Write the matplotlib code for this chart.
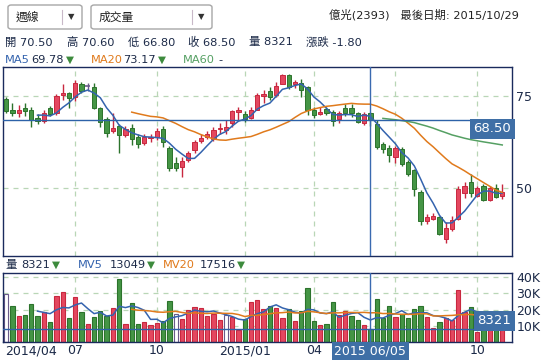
import numpy as np
import pandas as pd
import matplotlib
matplotlib.use("Agg")
import matplotlib.pyplot as plt
from matplotlib.patches import FancyBboxPatch
from matplotlib.transforms import blended_transform_factory as blend

W, H = 556, 364
FAM = ["DejaVu Sans", "Noto Sans CJK TC"]
plt.rcParams["font.family"] = FAM

# weekly candles, 2014/04/18 .. 2015/10/30
OPEN = [74.4,71.2,70.4,71.8,71.3,69.1,68.2,71.8,70.4,75.4, 76.0,74.8,78.3,78.0,77.7,71.8,68.9,65.5,66.8,64.3,
        66.4,64.0,62.2,63.5,64.0,66.1,60.9,56.7,55.6,57.6, 60.4,62.9,64.0,63.4,66.0,65.9,67.7,70.7,70.1,69.1,
        71.2,75.0,76.6,75.3,78.5,80.8,78.3,78.7,77.6,71.2, 70.2,71.6,70.7,68.9,71.8,71.8,70.4,67.8,70.5,67.5,
        62.0,60.9,58.3,60.6,57.0,54.7,48.9,40.7,41.4,41.8, 35.9,38.7,41.4,48.4,51.5,47.8,50.3,46.6,49.8,47.8]
CLOSE = [71.0,70.4,71.3,71.0,68.4,68.2,70.5,70.2,75.0,76.0, 74.5,78.7,76.6,78.0,71.8,68.1,64.9,66.3,64.3,66.2,
         63.4,62.0,63.8,63.8,65.5,62.4,55.4,55.4,57.2,59.4, 62.6,63.5,64.6,65.9,66.3,66.6,71.0,71.3,68.7,71.2,
         75.5,75.7,74.8,78.0,80.8,77.6,78.9,76.8,71.2,69.8, 70.7,70.4,68.2,70.4,70.5,70.5,67.9,70.2,68.5,61.1,
         60.6,58.8,60.9,56.5,53.8,49.6,40.9,41.8,42.3,37.3, 38.9,41.2,49.6,50.5,48.4,49.9,46.6,49.8,47.3,48.7]
HIGH = [74.8,73.2,72.6,73.2,72.1,70.2,71.2,72.5,75.7,78.3, 76.2,79.5,79.1,78.8,78.6,72.0,69.3,70.4,67.3,67.0,
        67.3,64.6,64.6,64.7,66.4,67.0,61.4,58.4,58.4,60.1, 63.1,64.6,65.6,66.6,67.6,68.4,71.3,72.0,71.0,72.1,
        75.9,76.9,77.5,78.9,81.1,81.1,79.6,79.7,78.0,72.1, 72.1,72.1,71.2,71.0,73.0,72.8,70.7,70.7,70.6,68.4,
        62.5,61.6,61.3,61.1,57.5,55.1,49.2,42.6,43.0,42.2, 40.5,42.3,50.5,51.4,53.6,50.5,51.0,50.3,51.0,51.0]
LOW = [70.5,69.7,69.3,69.7,66.6,67.5,67.8,69.5,69.9,73.9, 71.7,73.8,76.0,76.6,71.5,66.6,63.8,65.0,59.6,63.8,
       61.8,60.9,61.6,62.5,63.0,61.0,54.6,54.6,52.8,56.9, 59.6,62.2,63.2,62.7,64.6,64.6,66.6,68.5,68.0,68.8,
       71.2,73.2,74.0,74.8,78.3,77.1,77.4,74.8,69.8,69.1, 69.8,69.8,67.0,67.8,69.6,69.3,67.6,67.1,66.8,60.7,
       59.4,57.0,56.6,56.0,53.2,47.8,39.6,39.9,41.0,37.0, 34.7,38.2,41.2,47.1,47.5,47.4,46.4,46.4,47.1,46.9]
# volume in thousand lots
VOL = [29.4,22.3,16.2,16.8,23.5,16.2,18.5,12.4,28.4,30.8, 14.8,27.6,18.2,11.4,15.5,18.9,16.2,20.9,38.5,11.4,
       23.9,11.4,12.4,10.8,11.8,12.8,24.9,17.3,14.5,19.9, 21.7,21.1,15.8,17.0,13.8,16.8,15.2,7.8,14.3,24.3,
       25.9,20.6,22.4,21.1,14.8,20.4,13.3,19.1,33.0,13.2, 10.8,11.4,24.5,16.5,19.3,16.3,13.8,10.3,8.321,26.5,
       15.0,22.3,15.6,17.0,15.0,20.1,22.3,15.6,8.5,12.6, 14.8,13.8,32.0,18.5,21.5,6.5,13.0,10.0,12.0,9.0]
# volume bar direction vs previous close: u = up, d = down, n = unchanged
VDIR = list("nduddduduu" "dududddudu" "dduuuddnuu" "uuuuunuudu"
            "uuduududdd" "udduuddudd" "ddudddduud" "uuuudududu")

XT_POS = [0, 11, 24, 38, 49, 75]
XT_LAB = ["2014/04", "07", "10", "2015/01", "04", "10"]
GRID_POS = [11, 24, 38, 49, 62, 75]
SEL = 58  # 2015 06/05

RED, RED_E = "#e4475f", "#c8283f"
GRN, GRN_E = "#459545", "#2c732c"
PUR = "#6a5a8a"
C_MA5, C_MA20, C_MA60 = "#3463ae", "#e07a1c", "#55a063"
NAVY = "#1c2a48"
BOXC = "#3f6fa6"
GRIDC = "#b9d6b6"

o, c, hi, lo = map(np.array, (OPEN, CLOSE, HIGH, LOW))
v = np.array(VOL)
x = np.arange(len(o))

def ma(series, n):
    m = pd.Series(series).rolling(n).mean().to_numpy()
    m[:n] = np.nan
    return m

fig = plt.figure(figsize=(W / 100, H / 100), dpi=100)
fx = lambda px: px / W
fy = lambda py: 1 - py / H

axp = fig.add_axes([fx(3.3), fy(256), fx(512.3) - fx(3.3), fy(67.3) - fy(256)])
axv = fig.add_axes([fx(3.3), fy(342.3), fx(512.3) - fx(3.3), fy(273.3) - fy(342.3)])

for ax in (axp, axv):
    ax.set_xlim(-0.45, 80.6)
    for s in ax.spines.values():
        s.set_color("#1a2a5c"); s.set_linewidth(1.0)
    ax.set_xticks([])
    ax.yaxis.tick_right()
    ax.tick_params(axis="y", length=0, pad=3, labelsize=9, colors=NAVY)
    for p in GRID_POS:
        ax.axvline(p, color=GRIDC, lw=0.9, ls=(0, (4, 4)), zorder=0)
    ax.axvline(SEL, color="#3a6ab0", lw=1.0, zorder=5)

# --- price panel
axp.set_ylim(31.2, 83.0)
axp.set_yticks([50, 75])
for yv in (50, 75):
    axp.axhline(yv, color=GRIDC, lw=0.9, ls=(0, (4, 4)), zorder=0)

up, dn, fl = c > o, c < o, c == o
face = np.where(up, RED, np.where(dn, GRN, PUR))
edge = np.where(up, RED_E, np.where(dn, GRN_E, PUR))
axp.vlines(x, lo, hi, colors=edge, lw=1.0, zorder=2)
axp.bar(x[~fl], np.maximum(np.abs(c - o), 0.3)[~fl], bottom=np.minimum(o, c)[~fl], width=0.68,
        color=face[~fl], edgecolor=edge[~fl], lw=0.7, zorder=3)
axp.hlines(c[fl], x[fl] - 0.4, x[fl] + 0.4, colors=PUR, lw=1.2, zorder=3)

axp.plot(x, ma(c, 5), color=C_MA5, lw=1.1, zorder=4)
axp.plot(x, ma(c, 20), color=C_MA20, lw=1.1, zorder=4)
axp.plot(x, ma(c, 60), color=C_MA60, lw=1.1, zorder=4)

axp.axhline(c[SEL], color="#2d62a8", lw=1.0, zorder=5)
axp.text(0.998, c[SEL] - 0.6, f"{c[SEL]:.2f}", transform=blend(axp.transAxes, axp.transData),
         ha="right", va="top", fontsize=9.5, color="white", zorder=6,
         bbox=dict(boxstyle="square,pad=0.25", fc=BOXC, ec="none"))

# --- volume panel
axv.set_ylim(0, 42.1)
axv.set_yticks([10, 20, 30, 40])
axv.set_yticklabels(["10K", "20K", "30K", "40K"])
for yv in (10, 20, 30, 40):
    axv.axhline(yv, color=GRIDC, lw=0.9, ls=(0, (4, 4)), zorder=0)
vd = np.array(VDIR)
vface = np.where(vd == "u", RED, np.where(vd == "d", GRN, "white"))
vedge = np.where(vd == "u", RED_E, np.where(vd == "d", GRN_E, PUR))
axv.bar(x, v, width=0.68, color=vface, edgecolor=vedge, lw=0.8, zorder=2)
axv.plot(x, ma(v, 5), color=C_MA5, lw=1.1, zorder=4)
axv.plot(x, ma(v, 20), color=C_MA20, lw=1.1, zorder=4)
axv.axhline(v[SEL], color="#2d62a8", lw=1.0, zorder=5)
axv.text(0.998, v[SEL] + 0.8, f"{v[SEL] * 1000:.0f}", transform=blend(axv.transAxes, axv.transData),
         ha="right", va="bottom", fontsize=9.5, color="white", zorder=6,
         bbox=dict(boxstyle="square,pad=0.25", fc=BOXC, ec="none"))

# x labels under volume panel
tb = blend(axv.transData, fig.transFigure)
for p, lab in zip(XT_POS, XT_LAB):
    if p == 0:
        fig.text(fx(5), fy(351), lab, ha="left", va="center", fontsize=9, color=NAVY)
    else:
        fig.text(p, fy(351), lab, transform=tb, ha="center", va="center", fontsize=9, color=NAVY)
fig.text(SEL, fy(351), "2015 06/05", transform=tb, ha="center", va="center", fontsize=9,
         color="white", zorder=10, bbox=dict(boxstyle="square,pad=0.2", fc=BOXC, ec="none"))

# --- header
def T(px, py, s, col=NAVY, size=8.2, **kw):
    fig.text(fx(px), fy(py), s, ha=kw.pop("ha", "left"), va="center", fontsize=size, color=col, **kw)

for (x0, x1, sep, lab) in [(8, 82, 62, "週線"), (91, 212, 192, "成交量")]:
    fig.add_artist(FancyBboxPatch((fx(x0), fy(29)), fx(x1) - fx(x0), fy(5) - fy(29),
                                  boxstyle="round,pad=0,rounding_size=0.006", transform=fig.transFigure,
                                  fc="white", ec="#a6a6a6", lw=1.0))
    fig.add_artist(plt.Line2D([fx(sep), fx(sep)], [fy(10), fy(24)], color="#c8b8c8", lw=0.8,
                              transform=fig.transFigure))
    T(x0 + 8, 17, lab, "#222222", 8.5)
    T(sep + 9, 17, "▼", "#333333", 6, ha="center")

T(519, 15, "億光(2393)   最後日期: 2015/10/29", "#222222", 8.2, ha="right")

for px, s in [(5, "開 70.50"), (66.7, "高 70.60"), (127.7, "低 66.80"), (188.3, "收 68.50"),
              (249.3, "量 8321"), (306, "漲跌 -1.80")]:
    T(px, 42.5, s)

TRI = "#3d8b3d"
T(5, 60, "MA5", C_MA5); T(31.2, 60, "69.78", NAVY); T(66, 60, "▼", TRI, 7.5)
T(90.7, 60, "MA20", C_MA20); T(123, 60, "73.17", NAVY); T(158, 60, "▼", TRI, 7.5)
T(183.3, 60, "MA60", C_MA60); T(218, 60, "-", NAVY)

T(5, 265, "量", NAVY); T(21.7, 265, "8321", NAVY); T(52, 265, "▼", TRI, 7.5)
T(77.7, 265, "MV5", C_MA5); T(110, 265, "13049", NAVY); T(146.5, 265, "▼", TRI, 7.5)
T(163.3, 265, "MV20", C_MA20); T(200, 265, "17516", NAVY); T(236.5, 265, "▼", TRI, 7.5)

fig.savefig("out.png", dpi=100)
